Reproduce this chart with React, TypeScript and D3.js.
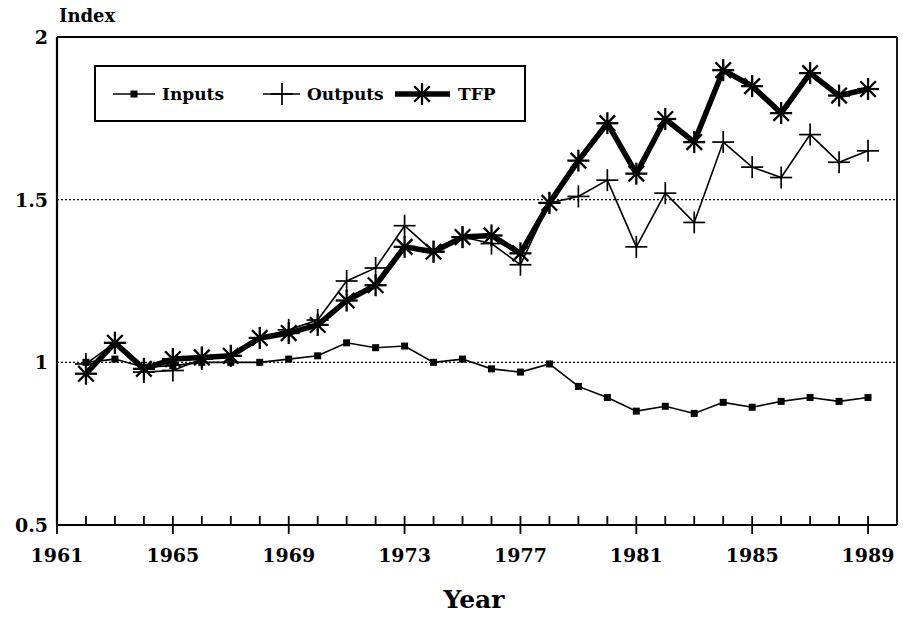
import React from "react";
import * as d3 from "d3";

const years = [1962,1963,1964,1965,1966,1967,1968,1969,1970,1971,1972,1973,1974,1975,1976,1977,1978,1979,1980,1981,1982,1983,1984,1985,1986,1987,1988,1989];
const inputs = [1.00,1.01,0.985,0.99,1.00,1.00,1.00,1.01,1.02,1.06,1.045,1.05,1.00,1.01,0.98,0.97,0.995,0.926,0.892,0.85,0.865,0.843,0.877,0.862,0.88,0.892,0.88,0.892];
const outputs = [0.995,1.06,0.97,0.975,1.01,1.02,1.075,1.10,1.13,1.25,1.29,1.42,1.34,1.385,1.365,1.30,1.49,1.51,1.56,1.355,1.52,1.43,1.677,1.60,1.568,1.70,1.615,1.65];
const tfp = [0.965,1.06,0.98,1.01,1.015,1.02,1.075,1.09,1.115,1.19,1.237,1.355,1.34,1.385,1.39,1.335,1.49,1.62,1.735,1.58,1.748,1.677,1.898,1.849,1.766,1.889,1.82,1.84];
const yTicks = [0.5, 1, 1.5, 2];
const xLabelYears = [1961,1965,1969,1973,1977,1981,1985,1989];
const gridValues = [1, 1.5];

const font = "'DejaVu Serif', 'Liberation Serif', serif";

function Star({ x, y, r }: { x: number; y: number; r: number }) {
  const spokes = [0, 45, 90, 135].map((a) => {
    const rad = (a * Math.PI) / 180;
    return (
      <line key={a} x1={x - r * Math.cos(rad)} y1={y - r * Math.sin(rad)} x2={x + r * Math.cos(rad)} y2={y + r * Math.sin(rad)} stroke="#000" strokeWidth={2.3} />
    );
  });
  return <g>{spokes}</g>;
}

function Plus({ x, y, r }: { x: number; y: number; r: number }) {
  return (
    <g>
      <line x1={x - r} y1={y} x2={x + r} y2={y} stroke="#000" strokeWidth={1.7} />
      <line x1={x} y1={y - r} x2={x} y2={y + r} stroke="#000" strokeWidth={1.7} />
    </g>
  );
}

export default function App() {
  const W = 903, H = 617;
  const left = 57, right = 897, top = 37, bottom = 525;
  const x = d3.scaleLinear().domain([1961, 1990]).range([left, right]);
  const y = d3.scaleLinear().domain([0.5, 2]).range([bottom, top]);
  const line = d3.line<number>().x((_, i) => x(years[i])).y((d) => y(d));
  const allYears = d3.range(1961, 1990);

  return (
    <svg width={W} height={H} style={{ position: "absolute", left: 0, top: 0, background: "#fff" }}>
      <rect x={0} y={0} width={W} height={H} fill="#fff" />
      {gridValues.map((g) => (
        <line key={g} x1={left} x2={right} y1={y(g)} y2={y(g)} stroke="#000" strokeWidth={1.2} strokeDasharray="2,2" />
      ))}
      <line x1={left} x2={right} y1={top} y2={top} stroke="#000" strokeWidth={1.8} />
      <line x1={right} x2={right} y1={top} y2={bottom} stroke="#000" strokeWidth={1.8} />
      <line x1={left} x2={left} y1={top} y2={bottom} stroke="#000" strokeWidth={2.2} />
      <line x1={left} x2={right} y1={bottom} y2={bottom} stroke="#000" strokeWidth={2.2} />
      {allYears.map((yr) => {
        const major = (yr - 1961) % 4 === 0;
        return (
          <line key={yr} x1={x(yr)} x2={x(yr)} y1={bottom - 9} y2={major ? bottom + 9 : bottom} stroke="#000" strokeWidth={1.8} />
        );
      })}
      {xLabelYears.map((yr) => (
        <text key={yr} x={x(yr)} y={bottom + 37} textAnchor="middle" fontFamily={font} fontWeight="bold" fontSize={19}>
          {yr}
        </text>
      ))}
      {yTicks.map((t) => (
        <text key={t} x={left - 9} y={y(t) + 7} textAnchor="end" fontFamily={font} fontWeight="bold" fontSize={19}>
          {String(t)}
        </text>
      ))}
      <text x={59} y={22} fontFamily={font} fontWeight="bold" fontSize={18}>Index</text>
      <text x={474} y={608} textAnchor="middle" fontFamily={font} fontWeight="bold" fontSize={25}>Year</text>

      <path d={line(inputs) || ""} fill="none" stroke="#000" strokeWidth={1.6} />
      {inputs.map((v, i) => (
        <rect key={i} x={x(years[i]) - 3.5} y={y(v) - 3.5} width={7} height={7} fill="#000" />
      ))}
      <path d={line(outputs) || ""} fill="none" stroke="#000" strokeWidth={1.6} />
      {outputs.map((v, i) => (
        <Plus key={i} x={x(years[i])} y={y(v)} r={11} />
      ))}
      <path d={line(tfp) || ""} fill="none" stroke="#000" strokeWidth={5.5} strokeLinejoin="round" />
      {tfp.map((v, i) => (
        <Star key={i} x={x(years[i])} y={y(v)} r={11} />
      ))}

      <rect x={95} y={66} width={430} height={55} fill="#fff" stroke="#000" strokeWidth={2} />
      <line x1={113} x2={155} y1={94} y2={94} stroke="#000" strokeWidth={1.6} />
      <rect x={130.5} y={90.5} width={7} height={7} fill="#000" />
      <text x={162} y={100} fontFamily={font} fontWeight="bold" fontSize={17}>Inputs</text>
      <line x1={263} x2={300} y1={94} y2={94} stroke="#000" strokeWidth={1.6} />
      <Plus x={282} y={94} r={11} />
      <text x={307} y={100} fontFamily={font} fontWeight="bold" fontSize={17}>Outputs</text>
      <line x1={395} x2={450} y1={94} y2={94} stroke="#000" strokeWidth={5.5} />
      <Star x={422} y={94} r={11} />
      <text x={458} y={100} fontFamily={font} fontWeight="bold" fontSize={17}>TFP</text>
    </svg>
  );
}
